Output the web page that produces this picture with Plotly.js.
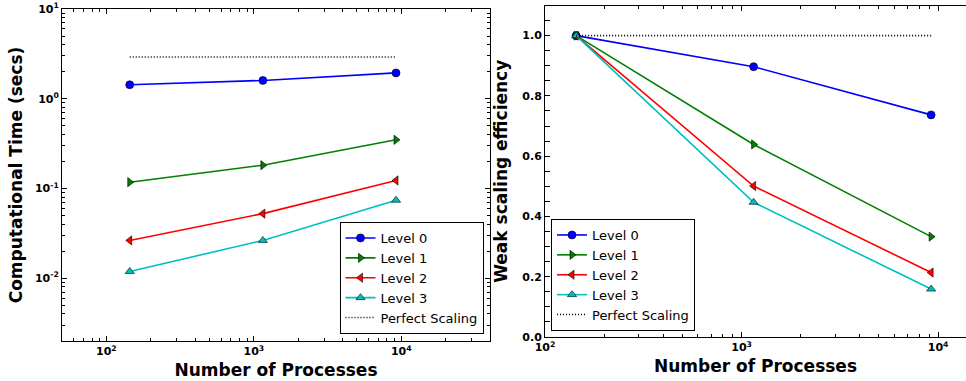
<!DOCTYPE html>
<html>
<head>
<meta charset="utf-8">
<script src="https://cdn.plot.ly/plotly-3.0.1.min.js"></script>
<style>
  html, body { margin: 0; padding: 0; background: #ffffff; }
  #chart { width: 966px; height: 381px; }
</style>
</head>
<body>
<div id="chart"></div>
<script>
// ---- data ----
const processes = [144, 1152, 9216];

const seriesNames = ["Level 0", "Level 1", "Level 2", "Level 3"];
const perfectName = "Perfect Scaling";

// Computational time (secs)
const timeLevel0 = [1.43, 1.60, 1.94];
const timeLevel1 = [0.1175, 0.182, 0.349];
const timeLevel2 = [0.0264, 0.0525, 0.123];
const timeLevel3 = [0.0119, 0.0264, 0.074];
const timePerfect = [2.92, 2.92, 2.92];

// Weak scaling efficiency
const effLevel0 = [1.0, 0.897, 0.737];
const effLevel1 = [1.0, 0.639, 0.333];
const effLevel2 = [1.0, 0.501, 0.214];
const effLevel3 = [1.0, 0.447, 0.159];
const effPerfect = [1.0, 1.0, 1.0];

// ---- tick labels ----
const xTickVals = [100, 1000, 10000];
const xTickText = ["10<sup>2</sup>", "10<sup>3</sup>", "10<sup>4</sup>"];
const yTickVals = [0.01, 0.1, 1, 10];
const yTickText = ["10<sup>-2</sup>", "10<sup>-1</sup>", "10<sup>0</sup>", "10<sup>1</sup>"];
const xMinorVals = [50, 60, 70, 80, 90, 200, 300, 400, 500, 600, 700, 800, 900,
                    2000, 3000, 4000, 5000, 6000, 7000, 8000, 9000, 20000, 30000, 40000];
const yMinorVals = [0.002, 0.003, 0.004, 0.005, 0.006, 0.007, 0.008, 0.009,
                    0.02, 0.03, 0.04, 0.05, 0.06, 0.07, 0.08, 0.09,
                    0.2, 0.3, 0.4, 0.5, 0.6, 0.7, 0.8, 0.9,
                    2, 3, 4, 5, 6, 7, 8, 9];

// ---- styles ----
const colors = ["#0000ff", "#008000", "#ff0000", "#00bfbf"];
const symbols = ["circle", "triangle-right", "triangle-left", "triangle-up"];
const FONT = "DejaVu Sans, Bitstream Vera Sans, sans-serif";

const timeSeries = [timeLevel0, timeLevel1, timeLevel2, timeLevel3];
const effSeries = [effLevel0, effLevel1, effLevel2, effLevel3];

const traces = [];
function addSeries(ys, i, xa, ya, leg) {
  traces.push({
    x: processes, y: ys, name: seriesNames[i],
    xaxis: xa, yaxis: ya, legend: leg,
    mode: "lines+markers", type: "scatter",
    line: { color: colors[i], width: 1.6 },
    marker: { symbol: symbols[i], size: 8, color: colors[i],
              line: { color: "#000000", width: 0.6 } }
  });
}
timeSeries.forEach((ys, i) => addSeries(ys, i, "x", "y", "legend"));
traces.push({
  x: processes, y: timePerfect, name: perfectName, xaxis: "x", yaxis: "y",
  legend: "legend", mode: "lines", type: "scatter",
  line: { color: "#000000", width: 1.6, dash: "1px,2px" }
});
effSeries.forEach((ys, i) => addSeries(ys, i, "x2", "y2", "legend2"));
traces.push({
  x: processes, y: effPerfect, name: perfectName, xaxis: "x2", yaxis: "y2",
  legend: "legend2", mode: "lines", type: "scatter",
  line: { color: "#000000", width: 1.6, dash: "1px,2px" }
});

const W = 966, H = 381;
const tickFont = { family: FONT, size: 11, weight: "bold", color: "#000000" };
const titleFont = { family: FONT, size: 17, weight: "bold", color: "#000000" };
const baseAxis = {
  showgrid: false, zeroline: false, showline: true, linecolor: "#000000", linewidth: 1,
  ticks: "inside", ticklen: 5, tickwidth: 1, tickcolor: "#000000",
  tickfont: tickFont, automargin: false
};
// overlay axes that only carry the minor log ticks
function minorAxis(extra) {
  return Object.assign({
    type: "log", showgrid: false, zeroline: false, showline: false,
    ticks: "inside", ticklen: 3, tickwidth: 1, tickcolor: "#000000",
    showticklabels: false, tickmode: "array", mirror: "allticks", automargin: false
  }, extra);
}

const legendBase = {
  bgcolor: "#ffffff", bordercolor: "#000000", borderwidth: 1,
  font: { family: FONT, size: 13, color: "#000000" },
  tracegroupgap: 0, itemwidth: 30
};

const xr1 = [Math.log10(50), Math.log10(40000)];
const yr1 = [Math.log10(0.002), 1];
const xr2 = [2, 4.142];
const dx1 = [62 / W, 490 / W], dy1 = [1 - 341 / H, 1 - 9 / H];
const dx2 = [545 / W, 1], dy2 = [1 - 337 / H, 1 - 5.5 / H];

const layout = {
  width: W, height: H,
  margin: { l: 0, r: 0, t: 0, b: 0 },
  paper_bgcolor: "#ffffff", plot_bgcolor: "#ffffff",
  font: { family: FONT, color: "#000000" },
  showlegend: true,
  xaxis: Object.assign({}, baseAxis, {
    type: "log", domain: dx1, range: xr1,
    tickmode: "array", tickvals: xTickVals, ticktext: xTickText,
    mirror: "allticks", anchor: "y",
    title: { text: "Number of Processes", font: titleFont, standoff: 6 }
  }),
  yaxis: Object.assign({}, baseAxis, {
    type: "log", domain: dy1, range: yr1,
    tickmode: "array", tickvals: yTickVals, ticktext: yTickText,
    mirror: "allticks", anchor: "x",
    title: { text: "Computational Time (secs)", font: titleFont, standoff: 7 }
  }),
  xaxis2: Object.assign({}, baseAxis, {
    type: "log", domain: dx2, range: xr2,
    tickmode: "array", tickvals: xTickVals, ticktext: xTickText,
    mirror: "allticks", anchor: "y2",
    title: { text: "Number of Processes", font: titleFont, standoff: 6 }
  }),
  yaxis2: Object.assign({}, baseAxis, {
    domain: dy2, range: [0, 1.1],
    dtick: 0.2, tick0: 0, tickformat: ".1f", mirror: false, anchor: "x2",
    minor: { ticks: "inside", ticklen: 5, tickwidth: 1, tickcolor: "#000000", dtick: 0.05, showgrid: false },
    title: { text: "Weak scaling efficiency", font: titleFont, standoff: 10 }
  }),
  xaxis3: minorAxis({ overlaying: "x", anchor: "y", domain: dx1, range: xr1, tickvals: xMinorVals }),
  yaxis3: minorAxis({ overlaying: "y", anchor: "x", domain: dy1, range: yr1, tickvals: yMinorVals }),
  xaxis4: minorAxis({ overlaying: "x2", anchor: "y2", domain: dx2, range: xr2, tickvals: xMinorVals }),
  legend: Object.assign({}, legendBase, {
    x: 483.5 / W, y: 1 - 334 / H, xanchor: "right", yanchor: "bottom"
  }),
  legend2: Object.assign({}, legendBase, {
    x: 551 / W, y: 1 - 331 / H, xanchor: "left", yanchor: "bottom"
  })
};

// empty carrier traces so the minor-tick overlay axes are drawn
traces.push({ x: [], y: [], xaxis: "x3", yaxis: "y3", type: "scatter", showlegend: false, hoverinfo: "skip" });
traces.push({ x: [], y: [], xaxis: "x4", yaxis: "y2", type: "scatter", showlegend: false, hoverinfo: "skip" });

Plotly.newPlot("chart", traces, layout, { staticPlot: true, displayModeBar: false });
</script>
</body>
</html>
